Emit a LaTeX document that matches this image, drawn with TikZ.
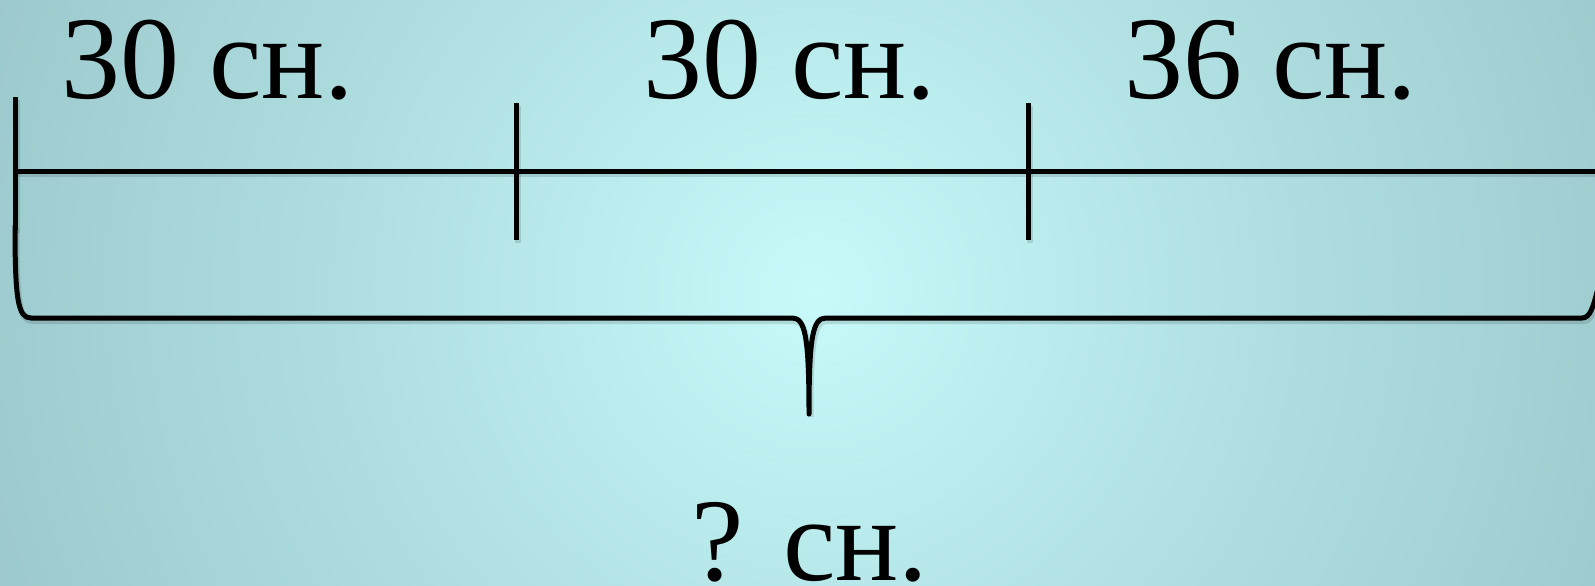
\documentclass[tikz,border=0pt]{standalone}
\usepackage{fontspec}
\setmainfont{Liberation Serif}
\definecolor{bgin}{RGB}{200,250,250}
\definecolor{bgmid}{RGB}{178,226,228}
\definecolor{bgout}{RGB}{140,182,187}
\pgfdeclareradialshading{bgglow}{\pgfpoint{0bp}{0bp}}{color(0bp)=(bgin); color(11bp)=(bgmid); color(34bp)=(bgout); color(50bp)=(bgout)}
\tikzset{
  lineshadow/.style={preaction={draw, black, opacity=0.12, line width=6pt, transform canvas={shift={(1.5pt,-3pt)}}}},
  segline/.style={line width=5pt, black, line cap=round, line join=round, lineshadow},
  segtick/.style={line width=5pt, black, lineshadow},
  lbl/.style={anchor=base, inner sep=0pt, font=\fontsize{118}{130}\selectfont}
}
\begin{document}
\begin{tikzpicture}[x=1pt,y=-1pt]
	% Background
	\useasboundingbox (0,0) rectangle (1595,586);
	\begin{scope}
		\clip (0,0) rectangle (1595,586);
		\shade[shading=bgglow] (815,290) circle (900);
	\end{scope}

	% Segment line
	\coordinate (A) at (15,171);
	\coordinate (B) at (516,171);
	\coordinate (C) at (1028,171);
	\coordinate (D) at (1600,171);
	\draw[segtick] (A) -- (D);

	% Ticks
	\draw[segtick] ([yshift=74pt]A) -- ([yshift=-59pt]A);
	\foreach \p in {B, C} {
		\draw[segtick] ([yshift=68pt]\p) -- ([yshift=-69pt]\p);
	}

	% Brace under the whole line
	\coordinate (tip) at (809,414);
	\draw[segline] ([yshift=-55pt]A) .. controls (15,300) and (18,318) .. (31,318)
		-- (792,318) .. controls (805,318) and (809,335) .. (tip)
		.. controls (809,335) and (813,318) .. (826,318)
		-- (1582,318) .. controls (1590,318) and (1593,308) .. (1598,288);

	% Labels
	\node[lbl] (l1) at (208,99) {30 сн.};
	\node[lbl] (l2) at (790,99) {30 сн.};
	\node[lbl] (l3) at (1271,99) {36 сн.};
	\node[lbl] (tot) at (810,580) {? сн.};
\end{tikzpicture}
\end{document}
